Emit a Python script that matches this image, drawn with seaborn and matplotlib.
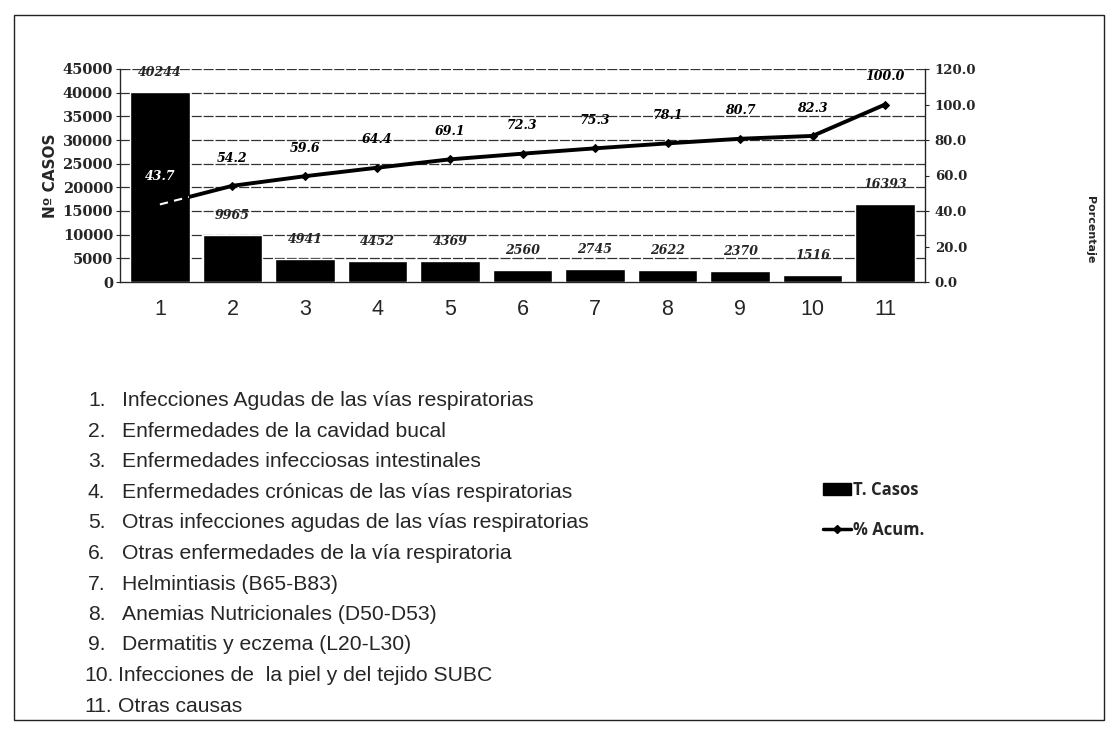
import numpy as np
import pandas as pd
import seaborn as sns
import matplotlib.pyplot as plt
from matplotlib.patches import Rectangle
from matplotlib.lines import Line2D
from matplotlib.patches import Patch

# datos del grafico
causas = ['1', '2', '3', '4', '5', '6', '7', '8', '9', '10', '11']
casos = [40244, 9965, 4941, 4452, 4369, 2560, 2745, 2622, 2370, 1516, 16393]
acum = [43.7, 54.2, 59.6, 64.4, 69.1, 72.3, 75.3, 78.1, 80.7, 82.3, 100.0]
nombres = [
    'Infecciones Agudas de las vías respiratorias',
    'Enfermedades de la cavidad bucal',
    'Enfermedades infecciosas intestinales',
    'Enfermedades crónicas de las vías respiratorias',
    'Otras infecciones agudas de las vías respiratorias',
    'Otras enfermedades de la vía respiratoria',
    'Helmintiasis (B65-B83)',
    'Anemias Nutricionales (D50-D53)',
    'Dermatitis y eczema (L20-L30)',
    'Infecciones de  la piel y del tejido SUBC',
    'Otras causas',
]

df = pd.DataFrame({'causa': causas, 'casos': casos, 'acum': acum})

sns.set_style('white')
plt.rcParams['font.family'] = ['Liberation Sans', 'DejaVu Sans']

W, H = 1118, 736
fig = plt.figure(figsize=(W / 100, H / 100), dpi=100)
ax = fig.add_axes([120 / W, 1 - 282 / H, 805 / W, 213 / H])

sns.barplot(data=df, x='causa', y='casos', color='black', width=0.82,
            saturation=1, ax=ax, zorder=3)
ax.set_ylim(0, 45000)
ax.set_yticks(range(0, 45001, 5000))
for v in range(5000, 45001, 5000):
    ax.axhline(v, color='#333333', lw=0.9, ls=(0, (8, 1.5)), zorder=1)
ax.set_xlim(-0.55, 10.55)
ax.set_xlabel('')
ax.set_ylabel('Nº CASOS', fontsize=11, fontweight='bold', family='DejaVu Sans', labelpad=3)
ax.tick_params(axis='x', labelsize=15.5, length=0, pad=12)
ax.tick_params(axis='y', labelsize=10.5, length=3, pad=2)
for t in ax.get_yticklabels():
    t.set_family('DejaVu Serif')
    t.set_fontweight('bold')
ax.spines['top'].set_visible(False)
for s in ['left', 'right', 'bottom']:
    ax.spines[s].set_color('#222222')
    ax.spines[s].set_linewidth(0.9)

for i, v in enumerate(casos):
    ax.annotate(str(v), (i, v), xytext=(0, 14), textcoords='offset points',
                ha='center', va='center', fontsize=9, fontweight='bold',
                family='DejaVu Serif', style='italic', zorder=5)

ax2 = ax.twinx()
sns.lineplot(x=np.arange(len(acum)), y=acum, ax=ax2, color='black', lw=2.8,
             marker='D', markersize=4, markeredgecolor='black', zorder=4)
# tramo de la linea sobre la primera barra (se ve claro en el original)
ax2.plot([0, 0.4], [acum[0], acum[0] + (acum[1] - acum[0]) * 0.4],
         color='white', lw=1.5, ls=(0, (4, 3)), zorder=5)
ax2.set_ylim(0, 120)
ax2.set_yticks(range(0, 121, 20))
ax2.set_yticklabels([f'{v:.1f}' for v in range(0, 121, 20)])
ax2.tick_params(axis='y', labelsize=9.5, length=3, pad=4)
for t in ax2.get_yticklabels():
    t.set_family('DejaVu Serif')
    t.set_fontweight('bold')
ax2.spines['top'].set_visible(False)
ax2.spines['right'].set_color('#222222')
for i, v in enumerate(acum):
    ax2.annotate(f'{v:.1f}', (i, v), xytext=(0, 20), textcoords='offset points',
                 ha='center', va='center', fontsize=9, fontweight='bold',
                 family='DejaVu Serif', style='italic',
                 color='white' if i == 0 else 'black')

fig.text(1090 / W, 1 - 230 / H, 'Porcentaje', rotation=270, ha='center', va='center',
         fontsize=8, fontweight='bold', family='DejaVu Sans')

# leyenda
handles = [Patch(facecolor='black', edgecolor='black'),
           Line2D([], [], color='black', lw=2.5, marker='D', markersize=4)]
fig.legend(handles, ['T. Casos', '% Acum.'], loc='upper left',
           bbox_to_anchor=(808 / W, 1 - 466 / H), frameon=False,
           prop={'size': 12, 'weight': 'bold', 'family': 'Open Sans'},
           labelspacing=1.3, handlelength=1.7, handletextpad=0.1)

# lista de causas
for i, nombre in enumerate(nombres):
    y = 1 - (401 + i * 30.5) / H
    if i < 9:
        fig.text(88 / W, y, f'{i + 1}.', fontsize=15.2, va='center')
        fig.text(122 / W, y, nombre, fontsize=15.2, va='center')
    else:
        fig.text(84 / W, y, f'{i + 1}.', fontsize=15.2, va='center')
        fig.text(118 / W, y, nombre, fontsize=15.2, va='center')

fig.patches.append(Rectangle((14 / W, 1 - 720 / H), 1090 / W, 705 / H,
                             transform=fig.transFigure, fill=False,
                             edgecolor='#222222', lw=1))

fig.savefig('out.png', dpi=100, facecolor='white')
